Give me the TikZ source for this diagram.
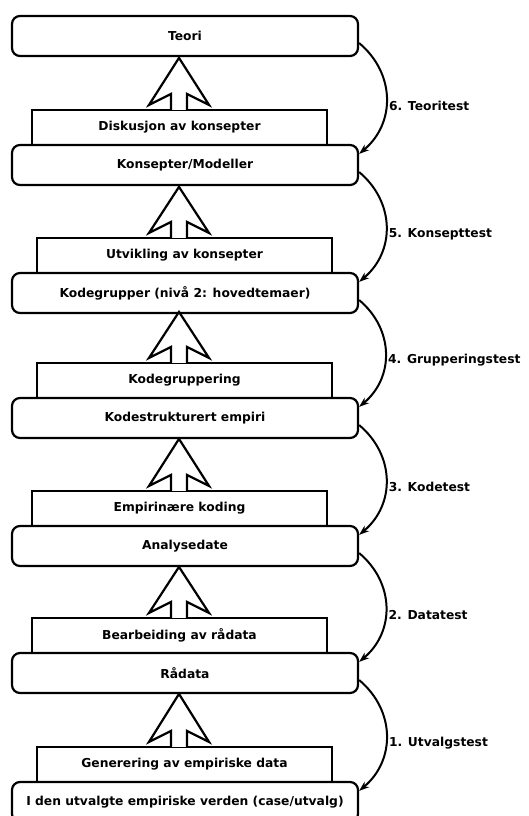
\documentclass[tikz,border=0pt]{standalone}
\usepackage{fontspec}
\setmainfont{DejaVu Sans}
\usetikzlibrary{arrows.meta}
\tikzset{
	nivaa/.style={draw,line width=2.2pt,rounded corners=8pt,minimum width=346pt,minimum height=40pt,inner sep=0pt},
	prosess/.style={draw,line width=2.2pt,minimum width=295pt,minimum height=35pt,inner sep=0pt},
	blokkpil/.style={fill=white,draw=black,line width=2.2pt,line join=miter},
	testpil/.style={line width=2pt,-{Stealth[length=10pt,width=7pt,inset=3pt]}},
	testtekst/.style={right,pos=0.56,inner sep=2pt}
}
\begin{document}
\begin{tikzpicture}[x=1pt,y=1pt,font=\fontsize{12.3}{14}\selectfont\bfseries]
		\useasboundingbox(0,0)rectangle(528,-816);
		% underprosesser (sitter oppe paa nivaaene)
		\node[prosess](s1)at(179.5,-127.5){Diskusjon av konsepter};
		\node[prosess](s2)at(184.5,-255.5){Utvikling av konsepter};
		\node[prosess](s3)at(184.5,-380.5){Kodegruppering};
		\node[prosess](s4)at(179.5,-508.5){Empirinære koding};
		\node[prosess](s5)at(179.5,-635.5){Bearbeiding av rådata};
		\node[prosess](s6)at(184.5,-764.5){Generering av empiriske data};
		% nivaaer
		\node[nivaa](teori)at(185,-36){Teori};
		\node[nivaa](konsept)at(185,-165){Konsepter/Modeller};
		\node[nivaa](kodegr)at(185,-293){Kodegrupper (nivå 2: hovedtemaer)};
		\node[nivaa](kodestr)at(185,-418){Kodestrukturert empiri};
		\node[nivaa](analyse)at(185,-546){Analysedate};
		\node[nivaa](raadata)at(185,-673){Rådata};
		\node[nivaa](verden)at(185,-802){I den utvalgte empiriske verden (case/utvalg)};
		% blokkpiler oppover
		\filldraw[blokkpil](s1.north -| 171,0)++(0,-1)--++(0,16)--++(-22,-11)--++(30,47)--++(30,-47)--++(-22,11)--++(0,-16);
		\filldraw[blokkpil](s2.north -| 171,0)++(0,-1)--++(0,16)--++(-22,-11)--++(30,46)--++(30,-46)--++(-22,11)--++(0,-16);
		\filldraw[blokkpil](s3.north -| 171,0)++(0,-1)--++(0,16)--++(-22,-11)--++(30,46)--++(30,-46)--++(-22,11)--++(0,-16);
		\filldraw[blokkpil](s4.north -| 171,0)++(0,-1)--++(0,16)--++(-22,-11)--++(30,47)--++(30,-47)--++(-22,11)--++(0,-16);
		\filldraw[blokkpil](s5.north -| 171,0)++(0,-1)--++(0,16)--++(-22,-11)--++(30,46)--++(30,-46)--++(-22,11)--++(0,-16);
		\filldraw[blokkpil](s6.north -| 171,0)++(0,-1)--++(0,16)--++(-22,-11)--++(30,48)--++(30,-48)--++(-22,11)--++(0,-16);
		% tester paa hoeyre side
		\draw[testpil]([yshift=-7pt]teori.east)to[out=-40,in=40,looseness=1.1]node[testtekst]{6. Teoritest}([yshift=-10pt]konsept.north east);
		\draw[testpil]([yshift=-7pt]konsept.east)to[out=-40,in=40,looseness=1.1]node[testtekst]{5. Konsepttest}([yshift=-10pt]kodegr.north east);
		\draw[testpil]([yshift=-7pt]kodegr.east)to[out=-40,in=40,looseness=1.1]node[testtekst]{4. Grupperingstest}([yshift=-10pt]kodestr.north east);
		\draw[testpil]([yshift=-7pt]kodestr.east)to[out=-40,in=40,looseness=1.1]node[testtekst]{3. Kodetest}([yshift=-10pt]analyse.north east);
		\draw[testpil]([yshift=-7pt]analyse.east)to[out=-40,in=40,looseness=1.1]node[testtekst]{2. Datatest}([yshift=-10pt]raadata.north east);
		\draw[testpil]([yshift=-7pt]raadata.east)to[out=-40,in=40,looseness=1.1]node[testtekst]{1. Utvalgstest}([yshift=-10pt]verden.north east);
	\end{tikzpicture}
\end{document}
